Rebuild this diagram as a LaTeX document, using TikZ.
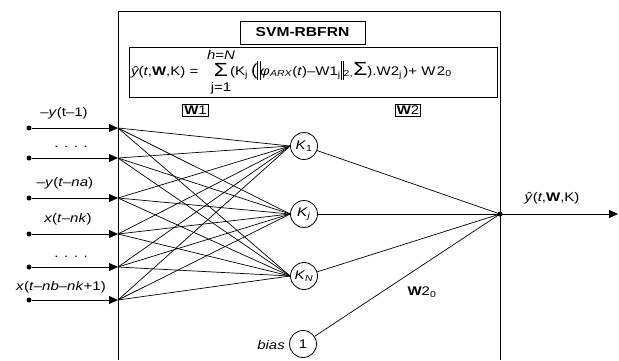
\documentclass[tikz,border=0pt]{standalone}
\usepackage{fontspec}
\setmainfont{Liberation Sans}[FakeStretch=1.2]
\usetikzlibrary{arrows.meta}
\newcommand{\dbar}{\rule[-5pt]{0.7pt}{19pt}\hspace{1.4pt}\rule[-5pt]{0.7pt}{19pt}}
\newcommand{\bigsig}{{\fontsize{19}{19}\selectfont Σ}}
\begin{document}
\begin{tikzpicture}[x=1pt,y=-1pt, font=\fontsize{12.5}{14}\selectfont,
 lab/.style={inner sep=0pt},
 neuron/.style={circle,draw,line width=0.8pt,minimum size=27pt,inner sep=0pt},
 wbox/.style={draw,line width=0.7pt,inner sep=1.5pt},
 conn/.style={line width=0.7pt},
 dot/.style={circle,fill,inner sep=0pt,minimum size=5pt},
 inarrow/.style={line width=0.8pt,-{Triangle[length=9pt,width=8pt]}}]
\useasboundingbox (0,0) rectangle (619,360);
\draw[line width=0.8pt] (118,360) -- (118,11) -- (500,11) -- (500,360);
% title and formula
\node[draw,line width=0.8pt,minimum width=125pt,minimum height=23pt,inner sep=0pt] (title) at (302.5,32.5) {\fontsize{13}{15}\selectfont\bfseries SVM-RBFRN};
\node[draw,line width=0.8pt,minimum width=368pt,minimum height=50pt,inner sep=0pt] (fbox) at (313,72) {};
\node[lab,anchor=base west] (fa) at (131,75) {{\itshape ŷ}(\textit{t},\textbf{W},K) =};
\node[lab] (fsig) at (221,70) {\bigsig};
\node[lab] (fhn) at (221,55) {\textit{h}=\textit{N}};
\node[lab] (fj1) at (221,88) {j=1};
\node[lab,anchor=base west] (fb) at (230,75) {(K\textsubscript{j}\hspace{3pt}{\fontsize{16}{16}\selectfont(}\dbar\textit{φ}\textsubscript{\textit{ARX}}(\textit{t})–W1\textsubscript{j}\dbar\textsubscript{2}\textsubscript{,}\bigsig).W2\textsubscript{j}\hspace{1.5pt})+ W\hspace{1.5pt}2\textsubscript{0}};
\node[wbox] (w1) at (195.5,110.5) {\textbf{W}1};
\node[wbox] (w2) at (408,110.5) {\textbf{W}2};
% inputs
\foreach \i/\y in {1/128,2/158,3/198,4/234,5/267,6/300}{
  \node[dot] (d\i) at (29,\y) {};
  \coordinate (a\i) at (118,\y);
  \draw[inarrow] (d\i) -- (a\i);
}
\node[lab] (l1) at (64,113) {–\textit{y}(t–1)};
\node[lab] (l2) at (71,147) {. . . .};
\node[lab] (l3) at (65,183) {–\textit{y}(\textit{t}–\textit{na})};
\node[lab] (l4) at (68,219) {\textit{x}(\textit{t}–\textit{nk})};
\node[lab] (l5) at (71,257) {. . . .};
\node[lab] (l6) at (61,287) {\textit{x}(\textit{t}–\textit{nb}–\textit{nk}+1)};
% hidden
\node[neuron] (k1) at (304,146) {\textit{K}\textsubscript{1}};
\node[neuron] (kj) at (304,214) {\textit{K}\textsubscript{\textit{j}}};
\node[neuron] (kn) at (304,276) {\textit{K}\textsubscript{\textit{N}}};
\node[neuron] (b) at (303,344) {1};
\node[lab,anchor=east] (bl) at (285,345) {\textit{bias}};
\foreach \i in {1,...,6}{
  \foreach \k in {k1,kj,kn}{
    \draw[conn] (a\i) -- (\k.west);
  }
}
% output
\node[dot] (o) at (500,214) {};
\coordinate (out) at (618,214);
\foreach \k in {k1,kj,kn,b}{ \draw[conn] (\k) -- (o.center); }
\draw[inarrow] (o.center) -- (out);
\node[lab] (ol) at (552,198) {\textit{ŷ}(\textit{t},\textbf{W},K)};
\node[lab] (w20) at (422,292) {\textbf{W}2\textsubscript{0}};
\end{tikzpicture}
\end{document}
